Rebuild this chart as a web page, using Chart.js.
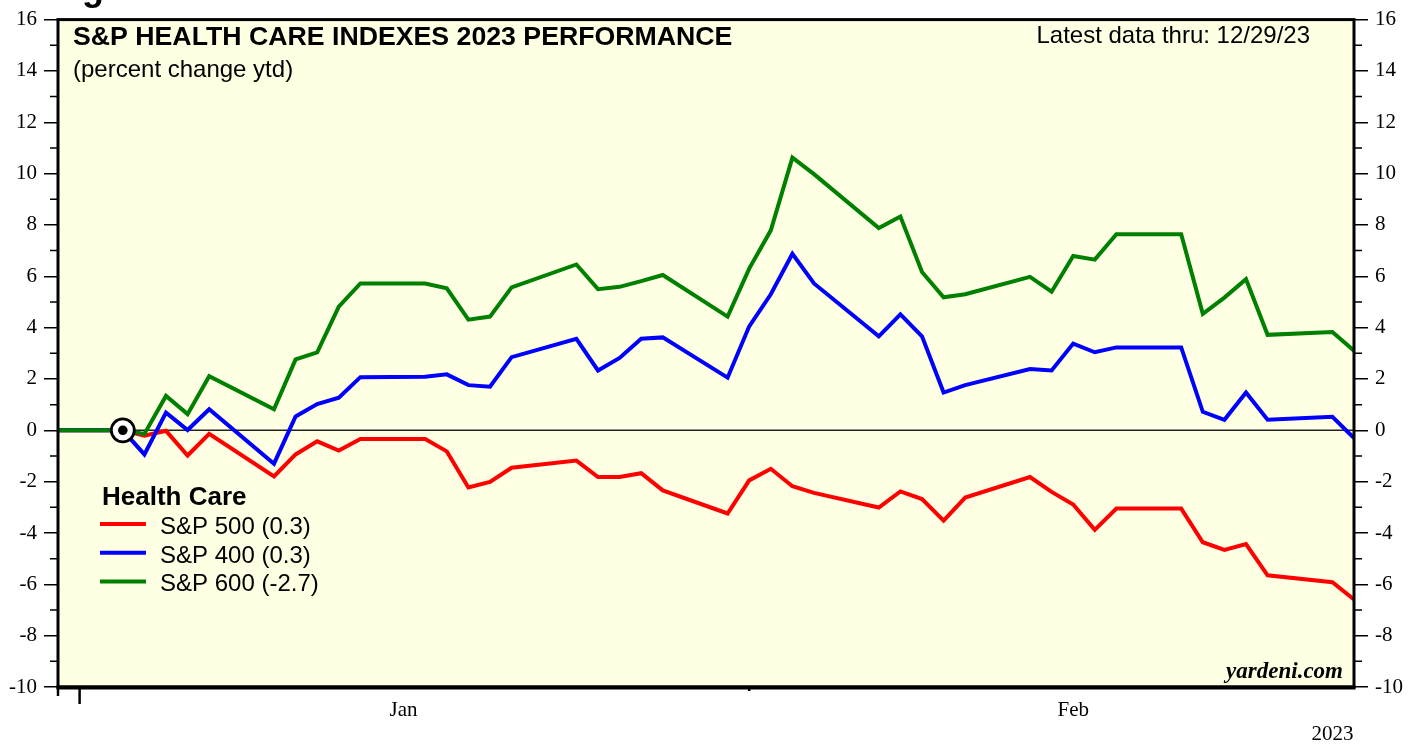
<!DOCTYPE html>
<html>
<head>
<meta charset="utf-8">
<script src="https://cdn.jsdelivr.net/npm/chart.js@4/dist/chart.umd.min.js"></script>
<style>
  html, body { margin: 0; padding: 0; background: #fff; }
  canvas { display: block; }
</style>
</head>
<body>
<canvas id="hc" width="1419" height="744"></canvas>
<script>
// trading-day slots along the x axis (gaps = weekends / holidays)
const days = [0, 3, 4, 5, 6, 7, 10, 11, 12, 13, 14, 17, 18, 19, 20, 21, 24, 25, 26, 27, 28,
  31, 32, 33, 34, 35, 38, 39, 40, 41, 42, 45, 46, 47, 48, 49, 52, 53, 54, 55, 56, 59, 60];

const sp500 = [0, 0, -0.21, -0.02, -0.98, -0.14, -1.8, -0.94, -0.43, -0.79, -0.34, -0.34, -0.82,
  -2.23, -2.01, -1.46, -1.18, -1.82, -1.82, -1.67, -2.34, -3.24, -1.95, -1.5, -2.18, -2.44,
  -3.01, -2.38, -2.68, -3.52, -2.62, -1.82, -2.4, -2.89, -3.88, -3.05, -3.05, -4.36, -4.66,
  -4.43, -5.65, -5.92, -6.59];
const sp400 = [0, 0, -0.94, 0.69, 0.01, 0.82, -1.3, 0.54, 1.02, 1.27, 2.07, 2.09, 2.18, 1.76,
  1.7, 2.85, 3.56, 2.33, 2.82, 3.57, 3.62, 2.05, 4.05, 5.3, 6.88, 5.72, 3.66, 4.52, 3.66, 1.47,
  1.76, 2.39, 2.33, 3.38, 3.04, 3.23, 3.23, 0.72, 0.41, 1.47, 0.41, 0.53, -0.3];
const sp600 = [0, 0, -0.14, 1.34, 0.63, 2.11, 0.82, 2.76, 3.04, 4.82, 5.72, 5.72, 5.53, 4.31,
  4.43, 5.57, 6.46, 5.5, 5.59, 5.81, 6.05, 4.43, 6.3, 7.79, 10.62, 9.98, 7.88, 8.33, 6.17, 5.18,
  5.3, 5.98, 5.4, 6.79, 6.65, 7.64, 7.64, 4.54, 5.17, 5.89, 3.72, 3.83, 3.1];

const seriesNames = ["S&P 500 (0.3)", "S&P 400 (0.3)", "S&P 600 (-2.7)"];
const seriesColors = ["#ff0000", "#0000ff", "#008000"];

const markerDay = 3;   // base-date marker
const xTickDays = [0, 1, 32];
const xTickLens = [9, 17, 4];
const monthLabels = ["Jan", "Feb"];
const monthDays = [16, 47];
const yearLabel = "2023";
const yearDay = 59;

const pts = (vals) => vals.map((v, i) => ({ x: days[i], y: v }));

const serifFont = "Liberation Serif";
const sansFont = "Liberation Sans";

const deco = {
  id: "deco",
  beforeDraw(chart) {
    const { ctx, chartArea: a } = chart;
    ctx.save();
    ctx.fillStyle = "#fff";
    ctx.fillRect(0, 0, chart.width, chart.height);
    ctx.fillStyle = "#ffffe4";
    ctx.fillRect(a.left, a.top, a.right - a.left, a.bottom - a.top);
    const y0 = chart.scales.y.getPixelForValue(0);
    ctx.strokeStyle = "#222";
    ctx.lineWidth = 1.5;
    ctx.beginPath();
    ctx.moveTo(a.left, y0);
    ctx.lineTo(a.right, y0);
    ctx.stroke();
    ctx.restore();
  },
  afterDraw(chart) {
    const { ctx, chartArea: a } = chart;
    const xs = chart.scales.x, ys = chart.scales.y;
    ctx.save();

    // frame
    ctx.strokeStyle = "#000";
    ctx.lineWidth = 3;
    ctx.strokeRect(a.left, a.top, a.right - a.left, a.bottom - a.top);
    ctx.lineWidth = 4;
    ctx.beginPath();
    ctx.moveTo(a.left - 1.5, a.bottom + 0.5);
    ctx.lineTo(a.right + 1.5, a.bottom + 0.5);
    ctx.stroke();

    // minor y ticks on odd values
    ctx.lineWidth = 1.5;
    for (let v = -9; v < 16; v += 2) {
      const y = ys.getPixelForValue(v);
      ctx.beginPath();
      ctx.moveTo(a.left - 8, y); ctx.lineTo(a.left, y);
      ctx.moveTo(a.right, y); ctx.lineTo(a.right + 8, y);
      ctx.stroke();
    }

    // x ticks
    ctx.lineWidth = 2.5;
    xTickDays.forEach((d, i) => {
      const x = xs.getPixelForValue(d);
      ctx.beginPath();
      ctx.moveTo(x, a.bottom);
      ctx.lineTo(x, a.bottom + xTickLens[i]);
      ctx.stroke();
    });

    // x labels
    ctx.fillStyle = "#000";
    ctx.font = "21px '" + serifFont + "'";
    ctx.textAlign = "center";
    ctx.textBaseline = "alphabetic";
    monthLabels.forEach((m, i) => ctx.fillText(m, xs.getPixelForValue(monthDays[i]), 716));
    ctx.fillText(yearLabel, xs.getPixelForValue(yearDay), 740);

    // clipped heading above the chart
    ctx.textAlign = "left";
    ctx.font = "bold 36px '" + sansFont + "'";
    ctx.fillText("Fig", 50, 0);

    // titles
    ctx.font = "bold 26.7px '" + sansFont + "'";
    ctx.fillText("S&P HEALTH CARE INDEXES 2023 PERFORMANCE", 73, 45);
    ctx.font = "24px '" + sansFont + "'";
    ctx.fillText("(percent change ytd)", 73, 77);
    ctx.textAlign = "right";
    ctx.fillText("Latest data thru: 12/29/23", 1310, 43);

    // legend
    ctx.textAlign = "left";
    ctx.font = "bold 26px '" + sansFont + "'";
    ctx.fillText("Health Care", 102, 505);
    ctx.font = "24px '" + sansFont + "'";
    seriesNames.forEach((name, i) => {
      const yl = 524 + i * 28.7;
      ctx.strokeStyle = seriesColors[i];
      ctx.lineWidth = 4;
      ctx.beginPath();
      ctx.moveTo(100, yl);
      ctx.lineTo(146, yl);
      ctx.stroke();
      ctx.fillStyle = "#000";
      ctx.fillText(name, 160, yl + 10);
    });

    // source
    ctx.textAlign = "right";
    ctx.font = "bold italic 23px '" + serifFont + "'";
    ctx.fillText("yardeni.com", 1343, 678);

    ctx.restore();
  }
};

const yAxis = (pos) => ({
  position: pos,
  min: -10,
  max: 16,
  ticks: {
    stepSize: 2,
    color: "#000",
    padding: 7,
    font: { family: serifFont, size: 21 }
  },
  grid: { drawOnChartArea: false, drawTicks: true, tickLength: 14, color: "#000", lineWidth: 1.5 },
  border: { display: false },
  afterFit(s) { s.width = pos === "left" ? 58 : 65; }
});

const lineSet = (label, vals, color, order) => ({
  label: label,
  data: pts(vals),
  borderColor: color,
  borderWidth: 4,
  pointRadius: 0,
  tension: 0,
  fill: false,
  order: order
});

const chart = new Chart(document.getElementById("hc"), {
  type: "line",
  data: {
    datasets: [
      lineSet(seriesNames[0], sp500, seriesColors[0], 3),
      lineSet(seriesNames[1], sp400, seriesColors[1], 2),
      lineSet(seriesNames[2], sp600, seriesColors[2], 1),
      {
        label: "base ring",
        data: [{ x: markerDay, y: 0 }],
        showLine: false,
        pointRadius: 11.5,
        pointBackgroundColor: "#fff",
        pointBorderColor: "#000",
        pointBorderWidth: 2.8,
        order: -1
      },
      {
        label: "base dot",
        data: [{ x: markerDay, y: 0 }],
        showLine: false,
        pointRadius: 4.8,
        pointBackgroundColor: "#000",
        pointBorderWidth: 0,
        order: -2
      }
    ]
  },
  options: {
    responsive: false,
    animation: false,
    devicePixelRatio: 1,
    layout: { padding: { top: 15, bottom: 57, left: 0, right: 0 } },
    plugins: { legend: { display: false }, tooltip: { enabled: false }, title: { display: false } },
    scales: {
      x: { type: "linear", min: 0, max: 60, display: false },
      y: yAxis("left"),
      y2: yAxis("right")
    }
  },
  plugins: [deco]
});
</script>
</body>
</html>
